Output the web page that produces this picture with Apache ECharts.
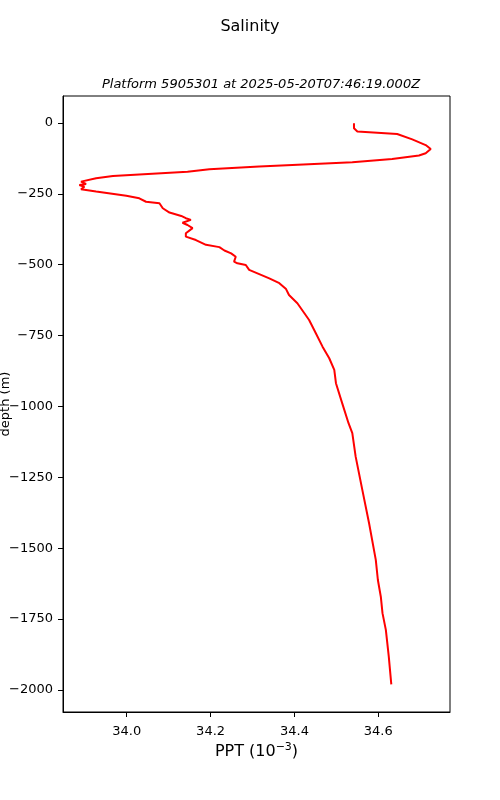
<!DOCTYPE html>
<html>
<head>
<meta charset="utf-8">
<script src="https://cdn.jsdelivr.net/npm/echarts@6/dist/echarts.min.js"></script>
<style>
  html, body { margin: 0; padding: 0; background: #fff; }
  #chart { width: 500px; height: 800px; }
</style>
</head>
<body>
<div id="chart"></div>
<script>
// salinity profile (depth in m, salinity in PPT)
var depth = [-1, -19, -30, -39, -58, -78, -92, -107, -115, -127, -139, -148, -154, -163, -172, -178,
  -187, -195, -207, -215, -219, -225, -234, -242, -257, -266, -278, -283, -301, -316, -328, -336,
  -342, -352, -360, -371, -389, -401, -413, -430, -438, -450, -460, -472, -489, -495, -501, -518,
  -533, -548, -565, -586, -607, -636, -695, -742, -789, -830, -871, -918, -989, -1059, -1094,
  -1177, -1295, -1412, -1541, -1612, -1671, -1729, -1788, -1882, -1980]
var salinity = [34.542, 34.542, 34.550, 34.645, 34.681, 34.713, 34.725, 34.713, 34.697, 34.633,
  34.538, 34.395, 34.316, 34.197, 34.145, 34.141, 33.967, 33.927, 33.891, 33.903, 33.887, 33.899,
  33.891, 33.927, 33.999, 34.030, 34.046, 34.078, 34.086, 34.102, 34.130, 34.141, 34.153, 34.133,
  34.145, 34.157, 34.141, 34.141, 34.165, 34.189, 34.221, 34.233, 34.249, 34.260, 34.256, 34.264,
  34.284, 34.292, 34.316, 34.340, 34.364, 34.380, 34.387, 34.407, 34.435, 34.451, 34.467, 34.483,
  34.495, 34.499, 34.514, 34.529, 34.538, 34.546, 34.562, 34.578, 34.594, 34.599, 34.606, 34.610,
  34.618, 34.625, 34.631]

// tick labels
var xTicks = [34.0, 34.2, 34.4, 34.6]
var yTicks = [0, -250, -500, -750, -1000, -1250, -1500, -1750, -2000]

var points = depth.map(function (d, i) { return [salinity[i], d] })

var font = 'DejaVu Sans'
var myChart = echarts.init(document.getElementById('chart'))

myChart.setOption({
  animation: false,
  textStyle: { fontFamily: font },
  title: [
    {
      text: 'Salinity',
      left: 'center',
      top: 14,
      textStyle: { fontFamily: font, fontSize: 16, fontWeight: 'normal', color: '#000' }
    },
    {
      text: 'Platform 5905301 at 2025-05-20T07:46:19.000Z',
      left: 256,
      textAlign: 'center',
      top: 73,
      textStyle: { fontFamily: font, fontSize: 13, fontStyle: 'italic', fontWeight: 'normal', color: '#000' }
    }
  ],
  grid: {
    left: 63,
    right: 50,
    top: 96,
    bottom: 88,
    outerBoundsMode: 'none',
    containLabel: false,
    show: true,
    borderColor: '#000',
    borderWidth: 1
  },
  xAxis: {
    type: 'value',
    min: 33.848,
    max: 34.771,
    name: 'PPT (10{sup|−3})',
    nameLocation: 'middle',
    nameGap: 30,
    nameMoveOverlap: false,
    nameTextStyle: {
      fontFamily: font,
      fontSize: 16,
      color: '#000',
      rich: { sup: { fontSize: 11, verticalAlign: 'top', padding: [0, 0, 8, 0], color: '#000' } }
    },
    splitLine: { show: false },
    axisLine: { show: true, onZero: false, lineStyle: { color: '#000' } },
    axisTick: { show: true, length: 5, lineStyle: { color: '#000' }, customValues: xTicks },
    axisLabel: {
      color: '#000',
      fontSize: 13,
      margin: 13,
      customValues: xTicks,
      formatter: function (v) { return v.toFixed(1) }
    }
  },
  yAxis: {
    type: 'value',
    min: -2077.6,
    max: 95,
    name: 'depth (m)',
    nameLocation: 'middle',
    nameRotate: 90,
    nameGap: 51,
    nameMoveOverlap: false,
    nameTextStyle: { fontFamily: font, fontSize: 13, color: '#000' },
    splitLine: { show: false },
    axisLine: { show: true, onZero: false, lineStyle: { color: '#000' } },
    axisTick: { show: true, length: 5, lineStyle: { color: '#000' }, customValues: yTicks },
    axisLabel: {
      color: '#000',
      fontSize: 13,
      margin: 10,
      customValues: yTicks,
      formatter: function (v) { return v < 0 ? '\u2212' + Math.abs(v) : String(v) }
    }
  },
  series: [
    {
      type: 'line',
      data: points,
      showSymbol: false,
      symbol: 'none',
      lineStyle: { color: '#ff0000', width: 2 },
      itemStyle: { color: '#ff0000' }
    }
  ]
})
</script>
</body>
</html>
